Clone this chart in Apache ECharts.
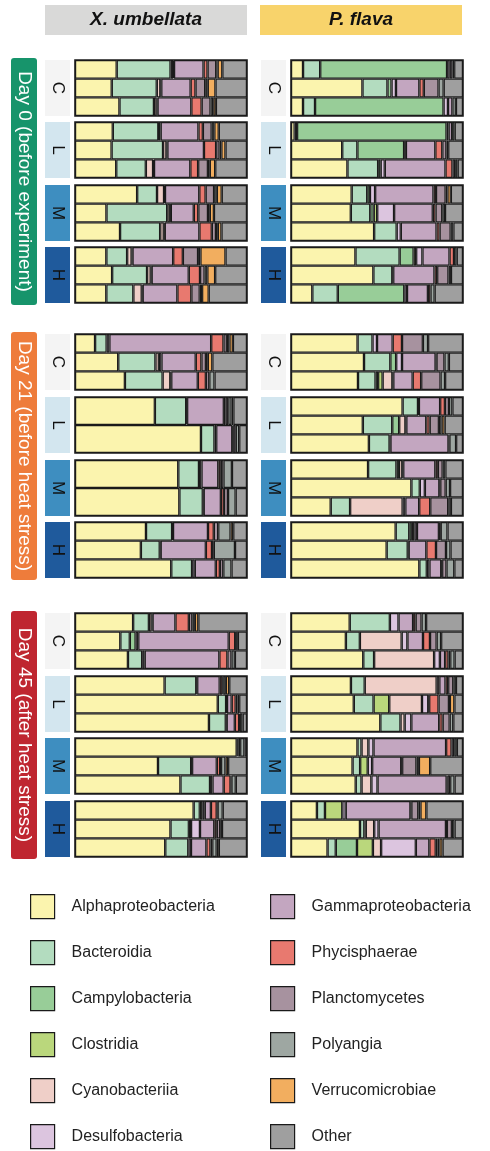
<!DOCTYPE html>
<html><head><meta charset="utf-8">
<script src="https://cdn.jsdelivr.net/npm/echarts@6/dist/echarts.min.js"></script>
<style>html,body{margin:0;padding:0;background:#fff}#c{width:490px;height:1151px}</style>
</head><body><div id="c"></div>
<script>
// ---- categories ----
const classes = ['Alphaproteobacteria','Bacteroidia','Campylobacteria','Clostridia','Cyanobacteriia','Desulfobacteria','Gammaproteobacteria','Phycisphaerae','Planctomycetes','Polyangia','Verrucomicrobiae','Other'];
const classColors = ['#FBF4AE','#B3DCBF','#98CD98','#BAD77C','#EFCFC8','#DCC5DF','#C3A6C0','#E8796F','#A7929F','#9EA7A2','#F2AE5F','#9F9F9F'];
const speciesNames = ['X. umbellata','P. flava'];
const dayNames = ['Day 0 (before experiment)','Day 21 (before heat stress)','Day 45 (after heat stress)'];
const treatments = ['C','L','M','H'];

// ---- values: each row = one replicate, columns follow `classes` ----
// X. umbellata
const xu_d0_C = [[24,31,0,0,1.4,0.6,17,2.3,5,0.8,2.7,14.2],[20.4,25,0,0,2,0.5,16.3,2.7,5.4,1.4,4.3,17.5],[25,19.4,0,0,1.5,0.5,19,5.8,5,1.5,1.5,17.5]];
const xu_d0_L = [[21.4,25.8,0,0,0.3,1,21.4,2.5,5,1.5,2.5,16],[20.4,28.7,0,0,1.9,0.5,20.4,6.8,1.9,1,2.3,12],[22.7,16.3,0,0,4,0.5,20,4.3,5.4,1,3,17.5]];
const xu_d0_M = [[34.4,11,0,0,3.9,0.5,19,3.5,4.7,1.5,2.7,14],[17.5,33.8,0,0,1.5,0.5,12.8,2.5,5.4,1,2.3,18.4],[24.7,22,0,0,2,0.5,19,6.8,2.3,1,2,14]];
const xu_d0_H = [[17.5,11.6,0,0,2.5,0.5,22.7,5.4,8.5,1.3,14,12],[20.4,19.2,0,0,2,0.5,20.4,6.2,2.5,1.5,4.3,17.5],[17.5,15.1,0,0,4.7,0.5,19.4,7.8,4.7,1.3,3.7,21.4]];
const xu_d21_C = [[11.1,6.4,0,0,0,1.5,56.3,6.8,1.9,1.4,1.9,7.8],[23.7,20.4,0,0,1.9,1.4,18.8,3.1,2.5,1,2.5,19],[27.8,21,0,0,4.3,0.5,14.8,4.5,1.9,2.9,0,18.1]];
const xu_d21_L = [[45.6,17.9,0,0,0,0.5,21,1,1.5,1.9,1,7.8],[72.8,7.8,0,0,0,1,9.3,0.5,1.5,2,0,4.5]];
const xu_d21_M = [[58.3,11.7,0,0,0,1.4,9.5,1.4,1.5,4.8,0,8.5],[58.8,13.2,0,0,0,0.5,9.7,1.7,2.3,4.3,0,6.4]];
const xu_d21_H = [[40.2,14.8,0,0,0,0.5,19.8,3.3,2.5,7,1.5,7.8],[37.3,10.7,0,0,0,0.5,25.6,3.5,1,12,0,6.8],[54,11.7,0,0,0,1.5,11.8,2.3,1.9,4.6,0,8.7]];
const xu_d45_C = [[32,8.7,0,0,1.5,0.5,12.6,7.4,1.9,1.4,1.9,26.8],[25.8,5.4,3.3,0,0,1.5,51.5,3.7,0.5,1,0,5.2],[29.7,8,0,0,0,1.4,41.9,4.5,2.3,1.9,0,6.8]];
const xu_d45_L = [[50.9,18,0,0,0,0.5,12.8,1.5,0.5,1.5,1.9,10.1],[82.1,4.8,0,0,0,0.5,2.7,2.3,1,1,0,4.5],[77.1,9.7,0,0,0,0.5,4.7,2.5,0.5,1.5,0,2.5]];
const xu_d45_M = [[94.2,0,0,0,0,0.5,0.5,0,1,2.5,0,1.5],[47,18.8,0,0,0,0.5,14,1.9,0.5,2.5,1.5,10.7],[60.2,16.9,0,0,0,1.4,6.4,3.9,0.5,2.5,0,6.4]];
const xu_d45_H = [[67.4,3.5,0,1.4,0,1.4,3.5,3.3,0.5,2.9,0,13.8],[53.4,10.3,0,1.2,0,5,8,1.4,1.9,1,0,14],[50.9,13,0,0,0,1.5,8.7,2.3,1,2.5,1.2,15.9]];
// P. flava
const pf_d0_C = [[6.8,9.7,71.7,0,0,1.5,1.5,0,0,1,0,5],[40.3,14.1,2.3,0,0,2.5,13.2,2.5,8.3,2.9,0,10.9],[6.8,6.8,72.7,0,0,2.5,2.5,0,0,2,0,4]];
const pf_d0_L = [[2.1,1.4,86.2,0,0,1.2,2,0,0,1.5,0,4.8],[28.7,8.5,26.2,0,0,1,16.5,3.9,2.3,1,0,8.3],[31.6,17.2,1.4,0,0,2.3,34,3.9,1.5,1.4,0,3]];
const pf_d0_M = [[33.9,8.7,1.5,0,0,2.9,32.6,1.4,5.4,1,1.9,6.8],[32.9,10.7,1.9,1.9,0,9.3,21.3,1.5,3.7,1.5,0,9.9],[46.5,12.6,0,0,0,2.3,20,1.7,6.2,1.5,0,5.4]];
const pf_d0_H = [[35.9,24.6,7.8,1.4,0,3.5,15.1,2.5,0,1.5,0,3.5],[46.5,10.7,0,0,0,0.5,23.3,1.5,6.4,1.4,0,6.8],[11.8,14.1,36.8,0,0,1.5,11.6,1.4,0,2.3,0,15.7]];
const pf_d21_C = [[37,8.3,0,0,0,2.5,8.7,5.2,11.6,2.9,0,19.4],[41.3,14.9,3.3,0,0,3.3,19,0.5,4.5,2.5,0,8],[37,9.7,1.4,2.5,5.4,0.5,10.7,4.7,10.7,2.5,0,9.9]];
const pf_d21_L = [[63,8.7,0,0,0,0.5,12,2.7,2.3,1.9,0,6],[40.3,16.5,3.9,0,3.5,0.5,11.2,1.9,5.2,1.5,1.7,10.3],[45.2,12,0,0,0,0.5,33.7,0,0.5,3.9,0,4]];
const pf_d21_M = [[43.2,15.9,1.4,0,1.9,0.5,18,1.4,2.7,1.5,0,9.9],[68.8,4.8,0,0,0,2.9,8.3,0.5,3.1,2.5,0,7.4],[22.3,10.9,0,0,29.5,1.5,7.8,6.2,10.1,1.5,0,6.8]];
const pf_d21_H = [[60,7.8,1.5,1.4,0,1.5,12.6,0.5,0.5,3.9,0,8.9],[53.5,11.8,0,0,0,0.5,9.9,5.4,5.6,2.5,0,7],[73.8,4.3,0,0,0,1.5,6.8,0.5,2.5,4.5,0,5]];
const pf_d45_C = [[32.6,22.3,0,0,0,4.8,8.1,1.4,3.3,2.5,0,20.5],[30.6,7.8,0,0,23.3,3.2,8.7,3.9,3.7,2.5,0,12.2],[41.3,6.2,0,0,34.3,3.3,3,1.9,1,2.5,0,4.8]];
const pf_d45_L = [[33.9,7.8,0,0,40.7,1.5,3.5,1.5,2.9,1.5,0,4],[34.9,11,0,8.7,18.2,3.5,0.5,5.2,5.8,0.5,2.5,4.8],[49.6,11.2,0,0,2.3,3.7,15.5,1.9,3.9,2,0,5.4]];
const pf_d45_M = [[37.8,2.3,0,0,3.9,2.9,41.3,3.1,1.5,1.5,0,3.5],[34.9,4.3,0,4.3,0,2.5,16.5,0.5,8.1,1.4,6.4,18.6],[36.8,3.3,0,0,5.6,3.5,39.3,0.5,1.5,2.5,0,4.8]];
const pf_d45_H = [[14.5,4.5,0,9.7,0,1.9,36.2,0.5,3.9,1.2,3.3,20.5],[39.3,2.5,0,0.8,4.8,2.5,38.4,0.5,2.9,1.5,0,4.8],[20,4.5,11.6,8.7,4.5,19,7.4,3.5,1,1,1.7,11.2]];

const panels = [
  [[xu_d0_C,xu_d0_L,xu_d0_M,xu_d0_H],[xu_d21_C,xu_d21_L,xu_d21_M,xu_d21_H],[xu_d45_C,xu_d45_L,xu_d45_M,xu_d45_H]],
  [[pf_d0_C,pf_d0_L,pf_d0_M,pf_d0_H],[pf_d21_C,pf_d21_L,pf_d21_M,pf_d21_H],[pf_d45_C,pf_d45_L,pf_d45_M,pf_d45_H]]
];

// ---- layout ----
const colLeft = [75, 291], colWidth = 172;
const groupTops = [[60,122,185,247],[334,397,460,522],[613,676,738,801]];
const groupH = 56;
const dayColors = ['#17946B','#EE7C3B','#BF2630'];
const trtColors = ['#F4F4F4','#D3E6EF','#3E8EC0','#1F5A9C'];
const FONT = 'Liberation Sans, Arial, Helvetica, sans-serif';

const grids = [], xAxes = [], yAxes = [], series = [];
let gi = 0;
for (let s = 0; s < 2; s++) {
  for (let d = 0; d < 3; d++) {
    for (let t = 0; t < 4; t++) {
      const bars = panels[s][d][t];
      grids.push({left: colLeft[s], width: colWidth, top: groupTops[d][t], height: groupH,
        show: true, borderColor: '#1a1a1a', borderWidth: 1.6, backgroundColor: 'transparent'});
      xAxes.push({type: 'value', gridIndex: gi, min: 0, max: 100, show: false});
      yAxes.push({type: 'category', gridIndex: gi, inverse: true, data: bars.map((b, i) => 'r' + (i + 1)), show: false});
      classes.forEach((name, k) => {
        series.push({
          name, type: 'bar', stack: 'g' + gi, xAxisIndex: gi, yAxisIndex: gi,
          barCategoryGap: 0, barGap: 0, silent: true, animation: false,
          itemStyle: {color: classColors[k], borderColor: '#1a1a1a', borderWidth: 1.2},
          data: bars.map(b => { const tot = b.reduce((a, v) => a + v, 0); return b[k] > 0 ? b[k] / tot * 100 : null; })
        });
      });
      gi++;
    }
  }
}

// ---- labels (headers, day boxes, treatment boxes) ----
const graphic = [];
const headerColors = ['#D9D9D8','#F8D36B'];
const headerLeft = [45, 260];
for (let s = 0; s < 2; s++) {
  graphic.push({type: 'rect', shape: {x: headerLeft[s], y: 5, width: 202, height: 30}, style: {fill: headerColors[s]}});
  graphic.push({type: 'text', x: headerLeft[s] + 101, y: 20, style: {text: speciesNames[s], font: 'italic bold 19px ' + FONT, fill: '#111', align: 'center', verticalAlign: 'middle'}});
}
for (let d = 0; d < 3; d++) {
  const top = groupTops[d][0] - 2, bot = groupTops[d][3] + groupH + 2;
  graphic.push({type: 'rect', shape: {x: 11, y: top, width: 26, height: bot - top, r: 3}, style: {fill: dayColors[d]}});
  graphic.push({type: 'text', x: 24, y: (top + bot) / 2, rotation: -Math.PI / 2,
    style: {text: dayNames[d], font: '19px ' + FONT, fill: '#fff', align: 'center', verticalAlign: 'middle'}});
  for (let t = 0; t < 4; t++) {
    for (let s = 0; s < 2; s++) {
      const x = colLeft[s] - 30;
      graphic.push({type: 'rect', shape: {x: x, y: groupTops[d][t], width: 25, height: groupH}, style: {fill: trtColors[t]}});
      graphic.push({type: 'text', x: x + 12.5, y: groupTops[d][t] + groupH / 2, rotation: -Math.PI / 2,
        style: {text: treatments[t], font: '17px ' + FONT, fill: '#111', align: 'center', verticalAlign: 'middle'}});
    }
  }
}

// ---- legend: one single-item legend per class, two columns of six ----
const legendCommon = {orient: 'vertical', itemWidth: 24, itemHeight: 24, icon: 'rect', padding: 0,
  selectedMode: false, textStyle: {fontSize: 16, fontFamily: FONT, color: '#222', padding: [0, 0, 0, 12]},
  itemStyle: {borderColor: '#1a1a1a', borderWidth: 1.2}};
const legendTop0 = 894, legendRowStep = 46;
const legendLefts = [30, 270];
const legends = classes.map((name, k) => Object.assign({
  left: legendLefts[Math.floor(k / 6)], top: legendTop0 + (k % 6) * legendRowStep, data: [name]
}, legendCommon));

const option = {
  animation: false,
  grid: grids, xAxis: xAxes, yAxis: yAxes, series,
  legend: legends,
  graphic
};
const chart = echarts.init(document.getElementById('c'), null, {renderer: 'canvas'});
chart.setOption(option);
</script></body></html>
